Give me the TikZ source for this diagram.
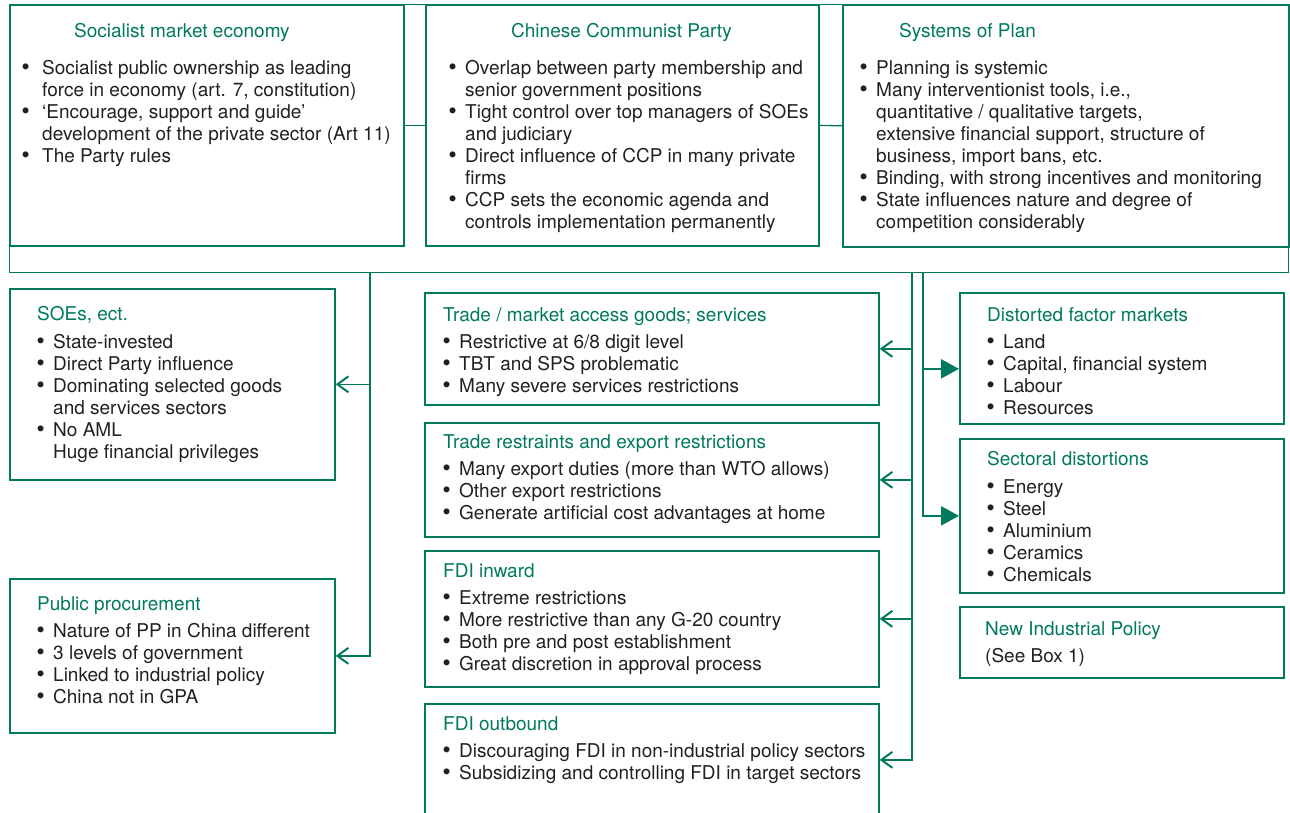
\documentclass[tikz,border=0pt]{standalone}
\usepackage{fontspec}
\setmainfont{TeX Gyre Heros}
\newfontfamily\dotfont{DejaVu Sans}
\usetikzlibrary{arrows.meta}

\definecolor{boxgreen}{RGB}{0,121,94}
\definecolor{inkgray}{RGB}{35,31,32}

\newcommand{\bl}[1][17pt]{\makebox[#1][l]{\hspace*{-1.5pt}{\dotfont\fontsize{20.5}{22}\selectfont •}}}
\newcommand{\ct}[1][17pt]{\hspace*{#1}}

\begin{document}
\begin{tikzpicture}[x=1pt, y=-1pt,
    box/.style={draw=boxgreen, line width=1.7pt, rectangle, anchor=north west, inner sep=0pt},
    ttl/.style={anchor=base west, inner sep=0pt, text=boxgreen, font=\fontsize{19}{22}\selectfont},
    body/.style={anchor=north west, inner sep=0pt, align=left, text=inkgray, font=\fontsize{19}{22}\selectfont},
    link/.style={draw=boxgreen, line width=1.3pt},
    feed/.style={link, -{Straight Barb[length=11pt, width=16pt, line width=2pt]}},
    push/.style={draw=boxgreen, line width=2.2pt, -{Triangle[length=18pt, width=19pt]}}]

    \useasboundingbox (0,0) rectangle (1290,813);

    % top row inside the frame
    \node[box, line width=1.4pt, minimum width=1279, minimum height=268] (frame) at (9,4) {};
    \node[box, minimum width=394, minimum height=241] (sme) at (9,4) {};
    \node[box, minimum width=393, minimum height=241] (ccp) at (425,4) {};
    \node[box, minimum width=446, minimum height=242] (plan) at (842,4) {};

    \node[ttl] (smeT) at ([shift={(65,34)}]sme.north west) {Socialist market economy};
    \node[body] (smeB) at ([shift={(12,54.6)}]sme.north west)
        {\strut\bl[21pt]Socialist public ownership as leading\\
         \ct[21pt]force in economy (art. 7, constitution)\\
         \bl[21pt]‘Encourage, support and guide’\\
         \ct[21pt]development of the private sector (Art 11)\\
         \bl[21pt]The Party rules};

    \node[ttl] (ccpT) at ([shift={(86,34)}]ccp.north west) {Chinese Communist Party};
    \node[body] (ccpB) at ([shift={(23,54.6)}]ccp.north west)
        {\strut\bl Overlap between party membership and\\
         \ct senior government positions\\
         \bl Tight control over top managers of SOEs\\
         \ct and judiciary\\
         \bl Direct influence of CCP in many private\\
         \ct firms\\
         \bl CCP sets the economic agenda and\\
         \ct controls implementation permanently};

    \node[ttl] (planT) at ([shift={(57,34)}]plan.north west) {Systems of Plan};
    \node[body] (planB) at ([shift={(17,54.6)}]plan.north west)
        {\strut\bl Planning is systemic\\
         \bl Many interventionist tools, i.e.,\\
         \ct quantitative / qualitative targets,\\
         \ct extensive financial support, structure of\\
         \ct business, import bans, etc.\\
         \bl Binding, with strong incentives and monitoring\\
         \bl State influences nature and degree of\\
         \ct competition considerably};

    % left column
    \node[box, minimum width=325, minimum height=191] (soe) at (9,288) {};
    \node[ttl] (soeT) at ([shift={(28,32)}]soe.north west) {SOEs, ect.};
    \node[body] (soeB) at ([shift={(27,44.6)}]soe.north west)
        {\strut\bl State-invested\\
         \bl Direct Party influence\\
         \bl Dominating selected goods\\
         \ct and services sectors\\
         \bl No AML\\
         \ct Huge financial privileges};

    \node[box, minimum width=325, minimum height=154] (pp) at (9,578) {};
    \node[ttl] (ppT) at ([shift={(28,32)}]pp.north west) {Public procurement};
    \node[body] (ppB) at ([shift={(27,43.6)}]pp.north west)
        {\strut\bl Nature of PP in China different\\
         \bl 3 levels of government\\
         \bl Linked to industrial policy\\
         \bl China not in GPA};

    % middle column
    \node[box, minimum width=454, minimum height=112] (tma) at (424,292) {};
    \node[ttl] (tmaT) at ([shift={(19,29)}]tma.north west) {Trade / market access goods; services};
    \node[body] (tmaB) at ([shift={(18,40.6)}]tma.north west)
        {\strut\bl Restrictive at 6/8 digit level\\
         \bl TBT and SPS problematic\\
         \bl Many severe services restrictions};

    \node[box, minimum width=454, minimum height=114] (trr) at (424,422) {};
    \node[ttl] (trrT) at ([shift={(19,26)}]trr.north west) {Trade restraints and export restrictions};
    \node[body] (trrB) at ([shift={(18,37.6)}]trr.north west)
        {\strut\bl Many export duties (more than WTO allows)\\
         \bl Other export restrictions\\
         \bl Generate artificial cost advantages at home};

    \node[box, minimum width=454, minimum height=136] (fdii) at (424,550) {};
    \node[ttl] (fdiiT) at ([shift={(19,27)}]fdii.north west) {FDI inward};
    \node[body] (fdiiB) at ([shift={(18,38.6)}]fdii.north west)
        {\strut\bl Extreme restrictions\\
         \bl More restrictive than any G-20 country\\
         \bl Both pre and post establishment\\
         \bl Great discretion in approval process};

    \node[box, minimum width=454, minimum height=112] (fdio) at (424,703) {};
    \node[ttl] (fdioT) at ([shift={(19,27)}]fdio.north west) {FDI outbound};
    \node[body] (fdioB) at ([shift={(18,38.6)}]fdio.north west)
        {\strut\bl Discouraging FDI in non-industrial policy sectors\\
         \bl Subsidizing and controlling FDI in target sectors};

    % right column
    \node[box, minimum width=324, minimum height=131] (dfm) at (959,292) {};
    \node[ttl] (dfmT) at ([shift={(28,29)}]dfm.north west) {Distorted factor markets};
    \node[body] (dfmB) at ([shift={(27,40.6)}]dfm.north west)
        {\strut\bl Land\\
         \bl Capital, financial system\\
         \bl Labour\\
         \bl Resources};

    \node[box, minimum width=324, minimum height=154] (sec) at (959,438) {};
    \node[ttl] (secT) at ([shift={(28,27)}]sec.north west) {Sectoral distortions};
    \node[body] (secB) at ([shift={(27,39.6)}]sec.north west)
        {\strut\bl Energy\\
         \bl Steel\\
         \bl Aluminium\\
         \bl Ceramics\\
         \bl Chemicals};

    \node[box, minimum width=324, minimum height=71] (nip) at (959,606) {};
    \node[ttl] (nipT) at ([shift={(26,29)}]nip.north west) {New Industrial Policy};
    \node[body] (nipB) at ([shift={(26,40.6)}]nip.north west) {\strut(See Box 1)};

    % connectors
    \draw[link] (sme.east) -- (ccp.west);
    \draw[link] (ccp.east) -- (plan.west);

    \coordinate (ltrunk) at (370,272);
    \coordinate (mtrunk) at (912,272);
    \coordinate (rtrunk) at (923,272);

    \draw[feed] (ltrunk) |- (soe.east);
    \draw[feed] (ltrunk) |- (pp.east);

    \draw[feed] (mtrunk) |- (tma.east);
    \draw[feed] (mtrunk) |- (trr.east);
    \draw[feed] (mtrunk) |- (fdii.east);
    \draw[feed] (mtrunk) |- (fdio.east);

    \draw[push] (rtrunk) |- ([yshift=-10.5pt]dfm.west);
    \draw[push] (rtrunk) |- (sec.west);

\end{tikzpicture}
\end{document}
